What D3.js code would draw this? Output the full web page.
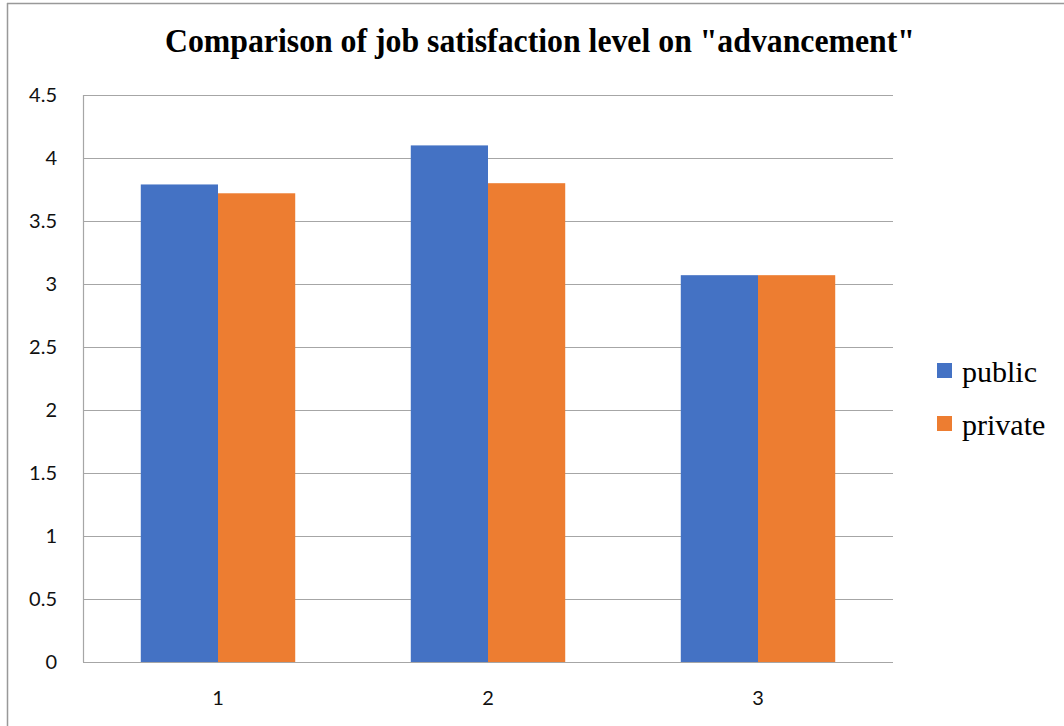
<!DOCTYPE html>
<html><head><meta charset="utf-8">
<script src="https://cdn.jsdelivr.net/npm/d3@7"></script>
<style>body{margin:0;background:#fff;} svg{display:block;}</style>
</head><body>
<script>
const categories = ["1", "2", "3"];
const seriesNames = ["public", "private"];
const publicValues = [3.79, 4.10, 3.07];
const privateValues = [3.72, 3.80, 3.07];
const yTicks = [0, 0.5, 1, 1.5, 2, 2.5, 3, 3.5, 4, 4.5];
const colors = ["#4472C4", "#ED7D31"];
const titleText = 'Comparison of job satisfaction level on "advancement"';

const W = 1064, H = 726;
const svg = d3.select("body").append("svg").attr("width", W).attr("height", H);

// outer frame
svg.append("line").attr("x1", 7).attr("x2", W).attr("y1", 3.5).attr("y2", 3.5).attr("stroke", "#999").attr("stroke-width", 1.5);
svg.append("line").attr("x1", 7.5).attr("x2", 7.5).attr("y1", 3).attr("y2", H).attr("stroke", "#999").attr("stroke-width", 1.5);

const mLeft = 83, mRight = 893, mTop = 95, mBottom = 662;
const x0 = d3.scaleBand().domain(categories).range([mLeft, mRight]).padding(0);
const gap = x0.bandwidth() * 0.428;
const x1 = d3.scaleBand().domain(seriesNames).range([gap / 2, x0.bandwidth() - gap / 2]).padding(0);
const y = d3.scaleLinear().domain([0, 4.5]).range([mBottom, mTop]);

// gridlines
svg.append("g").selectAll("line").data(yTicks.filter(d => d > 0)).join("line")
  .attr("x1", mLeft).attr("x2", mRight)
  .attr("y1", d => Math.round(y(d)) + 0.5).attr("y2", d => Math.round(y(d)) + 0.5)
  .attr("stroke", "#a6a6a6").attr("stroke-width", 1.2);

// y labels
svg.append("g").selectAll("text").data(yTicks).join("text")
  .attr("x", 57).attr("y", d => y(d)).attr("dy", "0.35em")
  .attr("text-anchor", "end")
  .attr("font-family", "Lato, 'Open Sans', sans-serif").attr("font-size", 20).attr("fill", "#111")
  .text(d => d);

// bars
const rows = categories.map((c, i) => ({ cat: c, vals: [publicValues[i], privateValues[i]] }));
const grp = svg.append("g").selectAll("g").data(rows).join("g")
  .attr("transform", d => `translate(${x0(d.cat)},0)`);
grp.selectAll("rect").data(d => d.vals.map((v, k) => ({ key: seriesNames[k], v, k }))).join("rect")
  .attr("x", d => x1(d.key)).attr("width", x1.bandwidth())
  .attr("y", d => y(d.v)).attr("height", d => y(0) - y(d.v))
  .attr("fill", d => colors[d.k]);

// axes lines
svg.append("line").attr("x1", mLeft + 0.5).attr("x2", mLeft + 0.5).attr("y1", mTop).attr("y2", mBottom).attr("stroke", "#a6a6a6").attr("stroke-width", 1.2);
svg.append("line").attr("x1", mLeft).attr("x2", mRight).attr("y1", mBottom + 0.5).attr("y2", mBottom + 0.5).attr("stroke", "#a6a6a6").attr("stroke-width", 1.2);

// x labels
svg.append("g").selectAll("text").data(categories).join("text")
  .attr("x", d => x0(d) + x0.bandwidth() / 2).attr("y", 705)
  .attr("text-anchor", "middle")
  .attr("font-family", "Lato, 'Open Sans', sans-serif").attr("font-size", 20).attr("fill", "#111")
  .text(d => d);

// title
svg.append("text").attr("x", 165).attr("y", 52)
  .attr("font-family", "'Liberation Serif', 'Times New Roman', serif").attr("font-weight", "bold")
  .attr("font-size", 33).attr("textLength", 750).attr("lengthAdjust", "spacingAndGlyphs")
  .attr("fill", "#000").text(titleText);

// legend
const leg = svg.append("g").selectAll("g").data(seriesNames).join("g")
  .attr("transform", (d, i) => `translate(937,${363 + i * 53})`);
leg.append("rect").attr("width", 15).attr("height", 15).attr("fill", (d, i) => colors[i]);
leg.append("text").attr("x", 25).attr("y", 18.5)
  .attr("font-family", "'Liberation Serif', 'Times New Roman', serif").attr("font-size", 30).attr("fill", "#000")
  .text(d => d);
</script>
</body></html>
